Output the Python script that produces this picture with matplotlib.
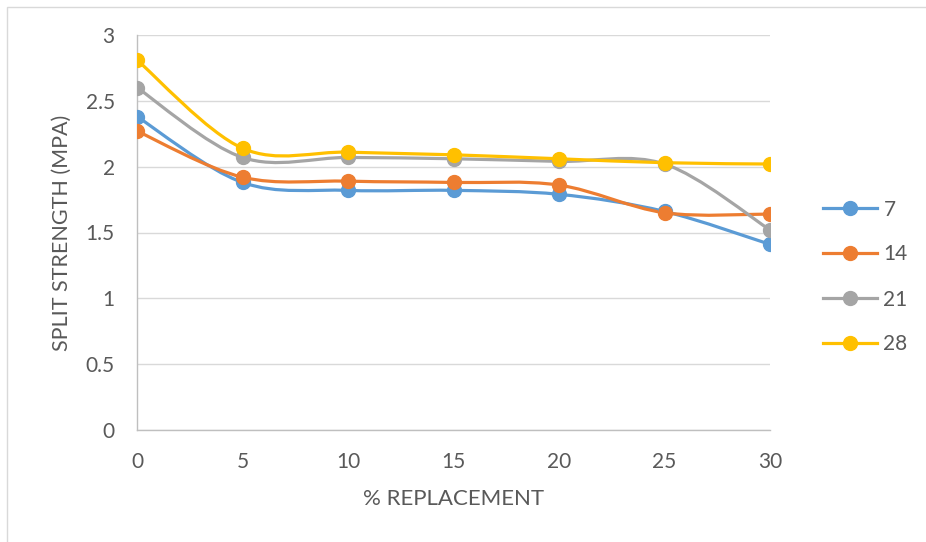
import matplotlib
matplotlib.use("Agg")
import matplotlib.pyplot as plt
from matplotlib.path import Path
from matplotlib.patches import PathPatch, Rectangle
from matplotlib.lines import Line2D
import numpy as np

# region Source Data
replacement = [0, 5, 10, 15, 20, 25, 30]
days = ["7", "14", "21", "28"]
split_7 = [2.38, 1.88, 1.82, 1.82, 1.79, 1.66, 1.41]
split_14 = [2.27, 1.92, 1.89, 1.88, 1.86, 1.65, 1.64]
split_21 = [2.60, 2.07, 2.07, 2.06, 2.04, 2.02, 1.52]
split_28 = [2.81, 2.14, 2.11, 2.09, 2.06, 2.03, 2.02]
y_ticks = [0, 0.5, 1, 1.5, 2, 2.5, 3]
x_ticks = [0, 5, 10, 15, 20, 25, 30]
# endregion

series = [split_7, split_14, split_21, split_28]
colors = ["#5B9BD5", "#ED7D31", "#A5A5A5", "#FFC000"]
text_color = "#595959"
grid_color = "#D9D9D9"

plt.rcParams['font.family'] = ['Lato', 'DejaVu Sans']


def smooth_path(xs, ys):
    # Excel-like smoothed line: cubic Bezier through the points
    pts = np.column_stack([xs, ys]).astype(float)
    n = len(pts)
    verts = [pts[0]]
    codes = [Path.MOVETO]
    for i in range(n - 1):
        p_prev = pts[i - 1] if i > 0 else pts[i]
        p_next2 = pts[i + 2] if i + 2 < n else pts[i + 1]
        c1 = pts[i] + (pts[i + 1] - p_prev) / 6.0
        c2 = pts[i + 1] - (p_next2 - pts[i]) / 6.0
        verts += [c1, c2, pts[i + 1]]
        codes += [Path.CURVE4] * 3
    return Path(verts, codes)


fig = plt.figure(figsize=(9.26, 5.42), dpi=100)
ax = fig.add_axes([137 / 926, 1 - 430 / 542, (770 - 137) / 926, (430 - 35) / 542])

for vals, col in zip(series, colors):
    patch = PathPatch(smooth_path(replacement, vals), facecolor="none",
                      edgecolor=col, linewidth=2.3, capstyle="round", zorder=3)
    ax.add_patch(patch)
    ax.plot(replacement, vals, "o", color=col, markersize=10, zorder=4)

ax.set_xlim(0, 30)
ax.set_ylim(0, 3)
ax.set_xticks(x_ticks)
ax.set_yticks(y_ticks)
ax.set_yticklabels([f"{v:g}" for v in y_ticks])
ax.tick_params(axis="both", length=0, labelsize=15, colors=text_color)
ax.tick_params(axis="y", pad=16)
ax.tick_params(axis="x", pad=16)
ax.grid(axis="y", color=grid_color, linewidth=1)
ax.set_axisbelow(True)
for side in ["top", "right"]:
    ax.spines[side].set_visible(False)
for side in ["left", "bottom"]:
    ax.spines[side].set_color("#BFBFBF")
    ax.spines[side].set_linewidth(1)

ax.set_xlabel("% REPLACEMENT", fontsize=16, color=text_color, labelpad=12)
ax.set_ylabel("SPLIT STRENGTH (MPA)", fontsize=15.5, color=text_color, labelpad=10)

handles = [Line2D([0], [0], color=c, linewidth=2.3, marker="o", markersize=10)
           for c in colors]
fig.legend(handles, days, loc="center left", bbox_to_anchor=(823 / 926, 1 - 277 / 542),
           frameon=False, fontsize=15, handlelength=2.6, handletextpad=0.3,
           labelspacing=1.2, borderpad=0, borderaxespad=0, labelcolor=text_color)

fig.patches.append(Rectangle((7 / 926, -0.1), 1.0, 1 - 7 / 542 + 0.1,
                             transform=fig.transFigure, fill=False,
                             edgecolor=grid_color, linewidth=1))

fig.savefig("out.png", dpi=100)
